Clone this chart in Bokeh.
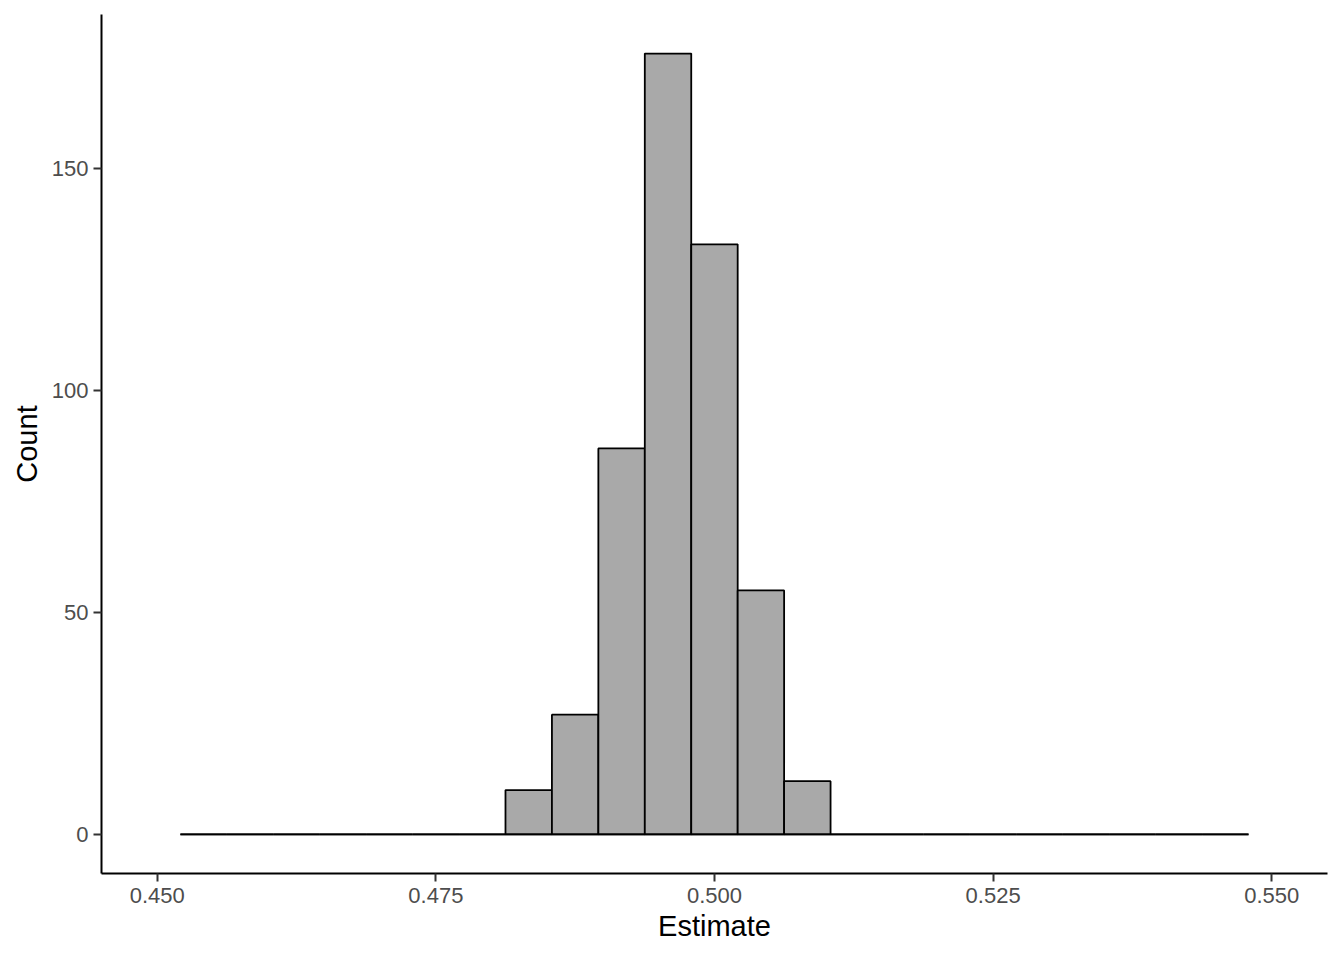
from bokeh.plotting import figure
from bokeh.models import Range1d, FixedTicker, ColumnDataSource
from bokeh.embed import file_html
from bokeh.resources import INLINE

# Histogram data (23 bins)
bin_start = 0.45208
bin_width = 1 / 240
counts = [0, 0, 0, 0, 0, 0, 0, 10, 27, 87, 176, 133, 55, 12, 0, 0, 0, 0, 0, 0, 0, 0, 0]
x_ticks = [0.450, 0.475, 0.500, 0.525, 0.550]
x_tick_labels = ["0.450", "0.475", "0.500", "0.525", "0.550"]
y_ticks = [0, 50, 100, 150]

left = [bin_start + i * bin_width for i in range(len(counts))]
right = [l + bin_width for l in left]
src = ColumnDataSource(dict(left=left, right=right, top=counts, bottom=[0] * len(counts)))

p = figure(width=1328, height=944, output_backend="svg", toolbar_location=None,
           x_range=Range1d(0.445, 0.555), y_range=Range1d(-8.8, 184.8),
           min_border_left=101, min_border_right=1, min_border_top=14, min_border_bottom=71)

p.quad(left="left", right="right", top="top", bottom="bottom", source=src,
       fill_color="#A9A9A9", line_color="black", line_width=1.8)
p.segment(x0="left", x1="right", y0="bottom", y1="bottom", source=src,
          line_color="black", line_width=1.8)

p.background_fill_color = "white"
p.border_fill_color = "white"
p.outline_line_color = None
p.xgrid.visible = False
p.ygrid.visible = False

FONT = "Liberation Sans"
for ax in (p.xaxis[0], p.yaxis[0]):
    ax.axis_line_color = "black"
    ax.axis_line_width = 2
    ax.major_tick_line_color = "#333333"
    ax.major_tick_line_width = 2
    ax.major_tick_out = 8
    ax.major_tick_in = 0
    ax.minor_tick_line_color = None
    ax.major_label_text_font = FONT
    ax.major_label_text_font_size = "22px"
    ax.major_label_text_color = "#4D4D4D"
    ax.axis_label_text_font = FONT
    ax.axis_label_text_font_size = "29px"
    ax.axis_label_text_font_style = "normal"
    ax.axis_label_text_color = "black"

p.xaxis[0].ticker = FixedTicker(ticks=x_ticks)
p.xaxis[0].major_label_overrides = {t: s for t, s in zip(x_ticks, x_tick_labels)}
p.yaxis[0].ticker = FixedTicker(ticks=y_ticks)
p.xaxis[0].axis_label = "Estimate"
p.yaxis[0].axis_label = "Count"
p.xaxis[0].major_label_standoff = 6
p.yaxis[0].major_label_standoff = 5
p.xaxis[0].axis_label_standoff = 4
p.yaxis[0].axis_label_standoff = 6

open("out.html", "w").write(file_html(p, INLINE))
